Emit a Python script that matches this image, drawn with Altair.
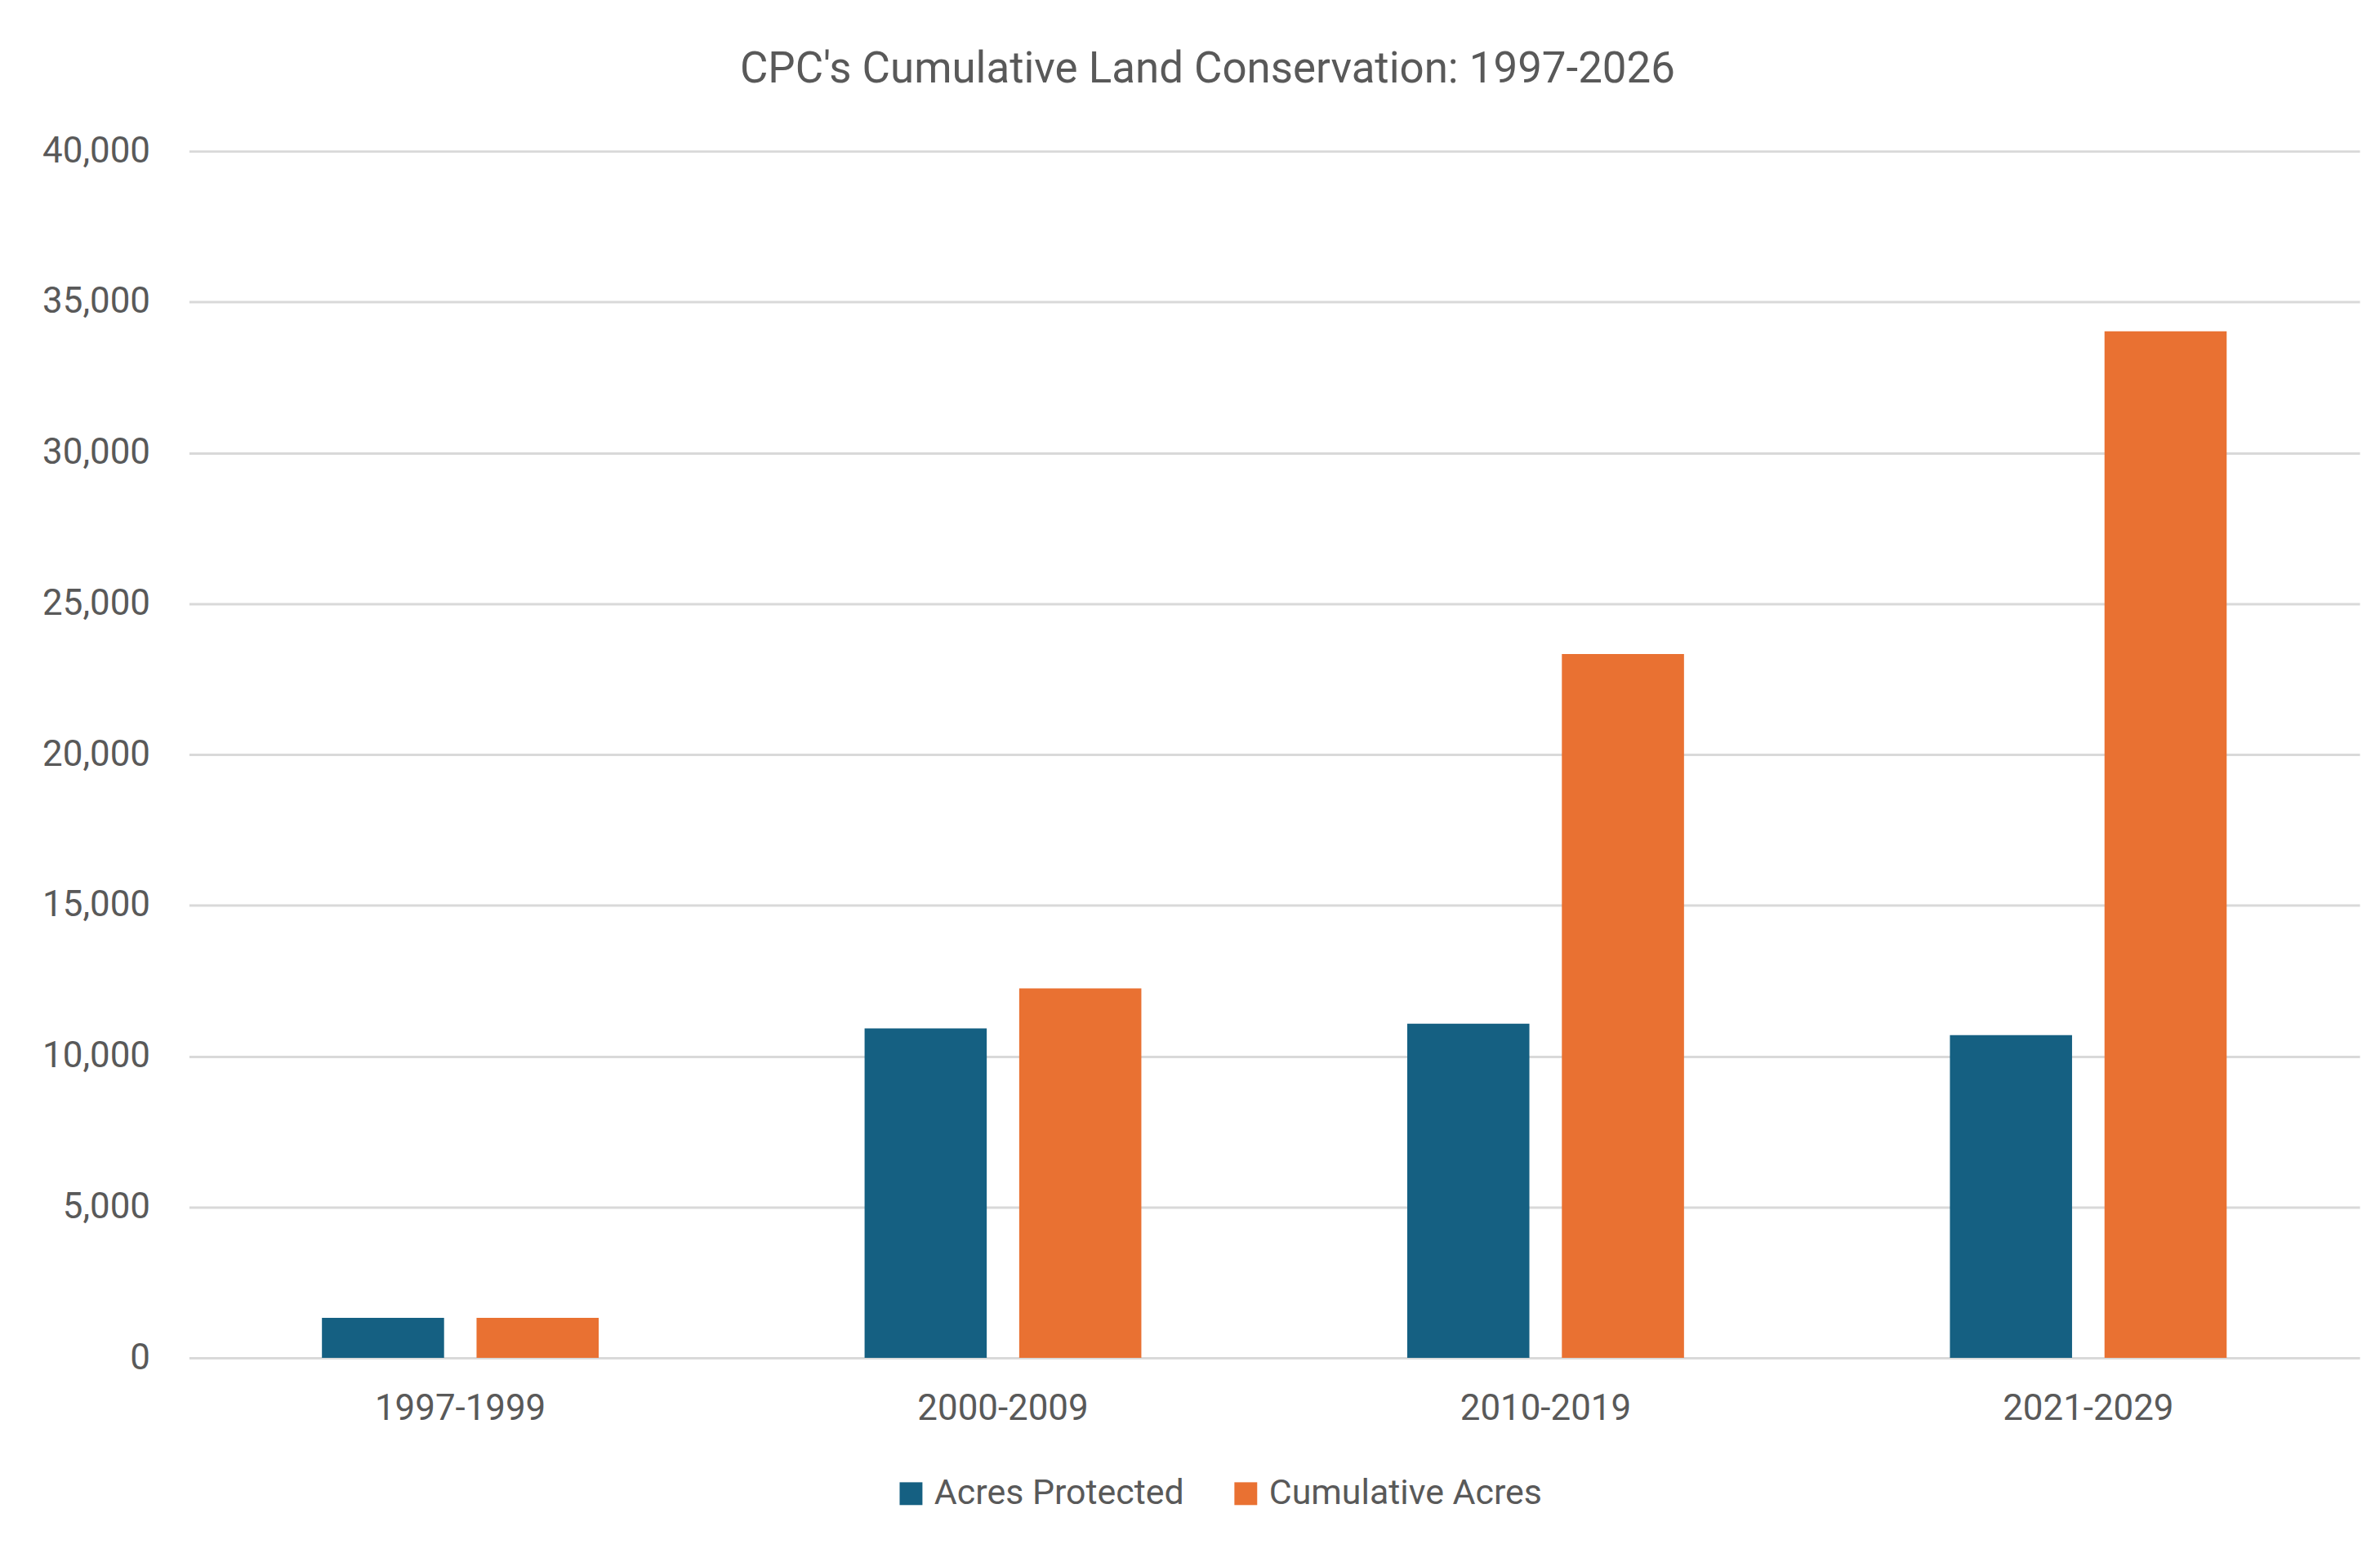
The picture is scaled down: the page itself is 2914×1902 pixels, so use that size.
import altair as alt
import pandas as pd

periods = ["1997-1999", "2000-2009", "2010-2019", "2021-2029"]
acres_protected = [1330, 10920, 11080, 10700]
cumulative_acres = [1330, 12250, 23330, 34030]
series_names = ["Acres Protected", "Cumulative Acres"]
series_colors = ["#156082", "#E97132"]
y_ticks = [0, 5000, 10000, 15000, 20000, 25000, 30000, 35000, 40000]
title_text = "CPC's Cumulative Land Conservation: 1997-2026"

rows = []
for p, a, c in zip(periods, acres_protected, cumulative_acres):
    rows.append({"Period": p, "Series": series_names[0], "Acres": a})
    rows.append({"Period": p, "Series": series_names[1], "Acres": c})
df = pd.DataFrame(rows)

FONT = "Roboto"
TEXT = "#595959"
GRID = "#D9D9D9"

chart = alt.Chart(df).mark_bar().encode(
    x=alt.X(
        "Period:N",
        sort=periods,
        scale=alt.Scale(paddingInner=0.49, paddingOuter=0.245),
        axis=alt.Axis(
            title=None, labelAngle=0, ticks=False, domain=False, grid=False,
            labelPadding=41, labelFontSize=44, labelColor=TEXT, labelFont=FONT,
            labelLimit=1000,
        ),
    ),
    xOffset=alt.XOffset(
        "Series:N", sort=series_names,
        scale=alt.Scale(paddingInner=0.21, paddingOuter=0),
    ),
    y=alt.Y(
        "Acres:Q",
        scale=alt.Scale(domain=[0, 40000], nice=False),
        axis=alt.Axis(
            values=y_ticks, format=",.0f", title=None, ticks=False, domain=False,
            gridColor=GRID, gridWidth=3, labelPadding=48, labelFontSize=44,
            labelColor=TEXT, labelFont=FONT, labelLimit=1000,
        ),
    ),
    color=alt.Color(
        "Series:N",
        sort=series_names,
        scale=alt.Scale(domain=series_names, range=series_colors),
        legend=alt.Legend(
            title=None, orient="none", legendX=865, legendY=1627,
            direction="horizontal", symbolType="square", symbolSize=784,
            symbolStrokeWidth=0, labelFontSize=43, labelFont=FONT,
            labelColor=TEXT, labelOffset=7, columnPadding=54, labelLimit=1000,
        ),
    ),
).properties(
    width=2665,
    height=1482,
    title=alt.TitleParams(
        text=title_text, fontSize=53, font=FONT, color=TEXT, fontWeight="normal",
        anchor="middle", dx=-82, offset=51,
    ),
    autosize=alt.AutoSizeParams(type="none"),
    padding={"left": 224, "top": 175, "right": 17, "bottom": 237},
).configure_view(stroke=None)

chart.save("out.html", embed_options={"renderer": "svg", "actions": False})
